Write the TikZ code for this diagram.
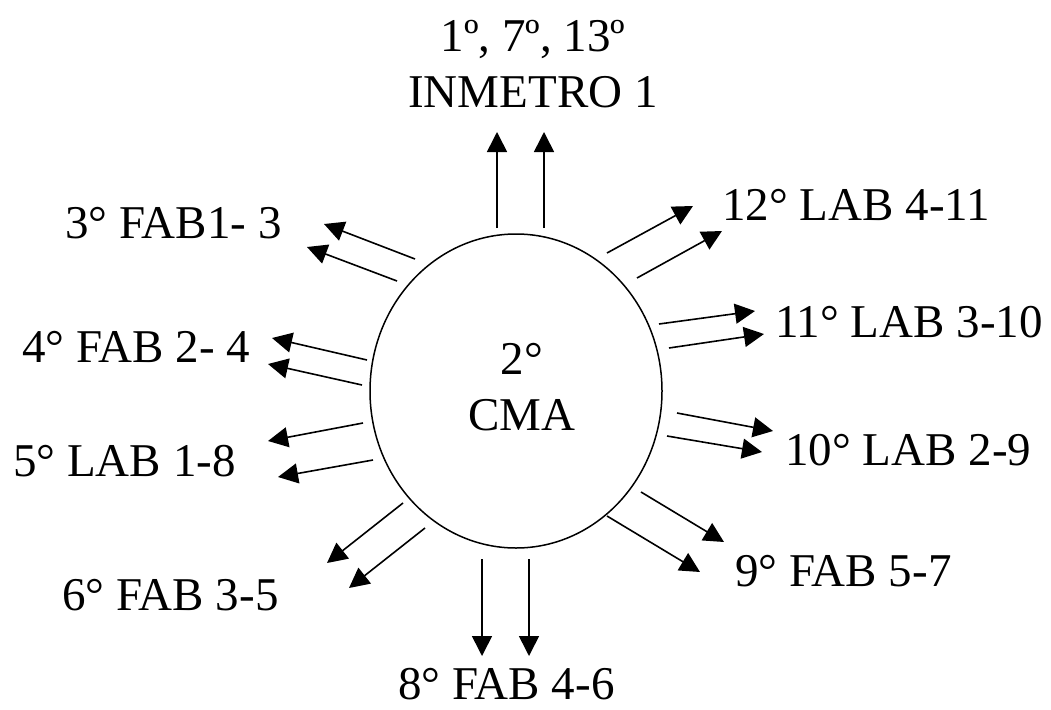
\documentclass[tikz,border=0pt]{standalone}
\usepackage{fontspec}
\setmainfont{Liberation Serif}
\usetikzlibrary{arrows.meta,shapes.geometric}
\begin{document}
\begin{tikzpicture}[x=1pt,y=-1pt,
  lbl/.style={inner sep=0pt,font=\fontsize{47}{56}\selectfont},
  arr/.style={line width=1.6pt,-{Triangle[length=20pt,width=20pt]}},
  hub/.style={draw,ellipse,line width=1.5pt,minimum width=292pt,minimum height=314pt,inner sep=0pt}]
\useasboundingbox (0,0) rectangle (1051,709);
% centre
\node[hub] (cma) at (516,391) {};
\node[lbl,align=center,anchor=north] (cmatext) at (522,343) {2°\\CMA};
% labels
\node[lbl,align=center,anchor=north] (inmetro) at (533,20) {1º, 7º, 13º\\INMETRO 1};
\node[lbl,anchor=base west] (fab13) at (65,238) {3° FAB1- 3};
\node[lbl,anchor=base west] (fab24) at (22,362) {4° FAB 2- 4};
\node[lbl,anchor=base west] (lab18) at (13,476) {5° LAB 1-8};
\node[lbl,anchor=base west] (fab35) at (62,610) {6° FAB 3-5};
\node[lbl,anchor=base west] (fab46) at (398,699) {8° FAB 4-6};
\node[lbl,anchor=base west] (fab57) at (735,586) {9° FAB 5-7};
\node[lbl,anchor=base west] (lab29) at (785,465) {10° LAB 2-9};
\node[lbl,anchor=base west] (lab310) at (775,337) {11° LAB 3-10};
\node[lbl,anchor=base west] (lab411) at (722,220) {12° LAB 4-11};
% arrow end points
\coordinate (a1s) at (497,228); \coordinate (a1e) at (497,132);
\coordinate (a2s) at (544,228); \coordinate (a2e) at (544,132);
\coordinate (b1s) at (415,259); \coordinate (b1e) at (324,224);
\coordinate (b2s) at (397,281); \coordinate (b2e) at (307,247);
\coordinate (c1s) at (367,360); \coordinate (c1e) at (272,338);
\coordinate (c2s) at (362,385); \coordinate (c2e) at (268,364);
\coordinate (d1s) at (363,423); \coordinate (d1e) at (268,441);
\coordinate (d2s) at (373,460); \coordinate (d2e) at (278,477);
\coordinate (e1s) at (403,503); \coordinate (e1e) at (327,563);
\coordinate (e2s) at (425,528); \coordinate (e2e) at (349,588);
\coordinate (f1s) at (482,559); \coordinate (f1e) at (482,656);
\coordinate (f2s) at (529,559); \coordinate (f2e) at (529,656);
\coordinate (g1s) at (641,492); \coordinate (g1e) at (724,542);
\coordinate (g2s) at (607,516); \coordinate (g2e) at (700,572);
\coordinate (h1s) at (677,413); \coordinate (h1e) at (773,431);
\coordinate (h2s) at (667,436); \coordinate (h2e) at (762,452);
\coordinate (i1s) at (659,324); \coordinate (i1e) at (755,311);
\coordinate (i2s) at (669,348); \coordinate (i2e) at (764,334);
\coordinate (j1s) at (607,253); \coordinate (j1e) at (693,206);
\coordinate (j2s) at (637,278); \coordinate (j2e) at (722,231);
\foreach \p in {a1,a2,b1,b2,c1,c2,d1,d2,e1,e2,f1,f2,g1,g2,h1,h2,i1,i2,j1,j2}
  \draw[arr] (\p s) -- (\p e);
\end{tikzpicture}
\end{document}
